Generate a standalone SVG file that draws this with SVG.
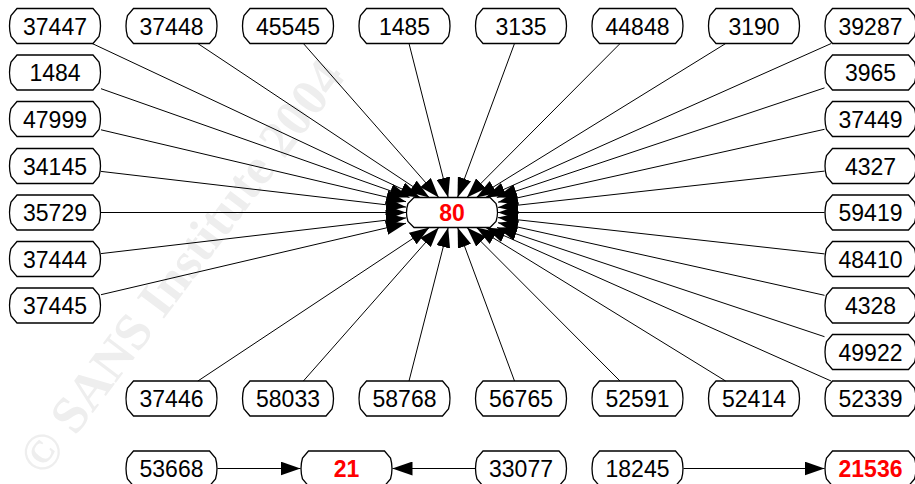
<svg xmlns="http://www.w3.org/2000/svg" width="915" height="484" viewBox="0 0 915 484">
<defs>
<style>
.n{fill:#fff;stroke:#000;stroke-width:1.3}
.t{font-family:"Liberation Sans",Arial,sans-serif;font-size:23px;text-anchor:middle;fill:#000}
.r{fill:#ff0000;font-weight:bold}
.e line{stroke:#000;stroke-width:1;marker-end:url(#ah)}
.wm{font-family:"Liberation Serif","Times New Roman",serif;font-size:52px;font-weight:bold;fill:#eeeeee}
</style>
<marker id="ah" markerWidth="20" markerHeight="14" refX="20" refY="7" orient="auto" markerUnits="userSpaceOnUse"><path d="M0,0 L20,7 L0,14 Z" fill="#000"/></marker>
<path id="shp" d="M8,0 H84 L90,7 Q93,17.5 90,28 L84,35 H8 L2,28 Q-1,17.5 2,7 Z"/>
<path id="shc" d="M8,0 H84 L90,6 Q93,15 90,24 L84,30 H8 L2,24 Q-1,15 2,6 Z"/>
</defs>
<rect width="915" height="484" fill="#fff"/>
<text class="wm" transform="translate(44,478) rotate(-53)">© SANS Institute 2004</text>

<g id="n37447"><use href="#shp" class="n" x="9" y="8.5"/><text class="t" x="55" y="34.5">37447</text></g>
<g id="n37448"><use href="#shp" class="n" x="125.5" y="8.5"/><text class="t" x="171.5" y="34.5">37448</text></g>
<g id="n45545"><use href="#shp" class="n" x="242" y="8.5"/><text class="t" x="288" y="34.5">45545</text></g>
<g id="n1485"><use href="#shp" class="n" x="358.5" y="8.5"/><text class="t" x="404.5" y="34.5">1485</text></g>
<g id="n3135"><use href="#shp" class="n" x="475" y="8.5"/><text class="t" x="521" y="34.5">3135</text></g>
<g id="n44848"><use href="#shp" class="n" x="591.5" y="8.5"/><text class="t" x="637.5" y="34.5">44848</text></g>
<g id="n3190"><use href="#shp" class="n" x="708" y="8.5"/><text class="t" x="754" y="34.5">3190</text></g>
<g id="n39287"><use href="#shp" class="n" x="824.5" y="8.5"/><text class="t" x="870.5" y="34.5">39287</text></g>

<g id="n1484"><use href="#shp" class="n" x="9" y="55"/><text class="t" x="55" y="81">1484</text></g>
<g id="n47999"><use href="#shp" class="n" x="9" y="101.5"/><text class="t" x="55" y="127.5">47999</text></g>
<g id="n34145"><use href="#shp" class="n" x="9" y="148.5"/><text class="t" x="55" y="174.5">34145</text></g>
<g id="n35729"><use href="#shp" class="n" x="9" y="195"/><text class="t" x="55" y="221">35729</text></g>
<g id="n37444"><use href="#shp" class="n" x="9" y="241.5"/><text class="t" x="55" y="267.5">37444</text></g>
<g id="n37445"><use href="#shp" class="n" x="9" y="288"/><text class="t" x="55" y="314">37445</text></g>

<g id="n3965"><use href="#shp" class="n" x="824.5" y="55"/><text class="t" x="870.5" y="81">3965</text></g>
<g id="n37449"><use href="#shp" class="n" x="824.5" y="101.5"/><text class="t" x="870.5" y="127.5">37449</text></g>
<g id="n4327"><use href="#shp" class="n" x="824.5" y="148.5"/><text class="t" x="870.5" y="174.5">4327</text></g>
<g id="n59419"><use href="#shp" class="n" x="824.5" y="195"/><text class="t" x="870.5" y="221">59419</text></g>
<g id="n48410"><use href="#shp" class="n" x="824.5" y="241.5"/><text class="t" x="870.5" y="267.5">48410</text></g>
<g id="n4328"><use href="#shp" class="n" x="824.5" y="288"/><text class="t" x="870.5" y="314">4328</text></g>
<g id="n49922"><use href="#shp" class="n" x="824.5" y="334.5"/><text class="t" x="870.5" y="360.5">49922</text></g>

<g id="n37446"><use href="#shp" class="n" x="125.5" y="381"/><text class="t" x="171.5" y="407">37446</text></g>
<g id="n58033"><use href="#shp" class="n" x="242" y="381"/><text class="t" x="288" y="407">58033</text></g>
<g id="n58768"><use href="#shp" class="n" x="358.5" y="381"/><text class="t" x="404.5" y="407">58768</text></g>
<g id="n56765"><use href="#shp" class="n" x="475" y="381"/><text class="t" x="521" y="407">56765</text></g>
<g id="n52591"><use href="#shp" class="n" x="591.5" y="381"/><text class="t" x="637.5" y="407">52591</text></g>
<g id="n52414"><use href="#shp" class="n" x="708" y="381"/><text class="t" x="754" y="407">52414</text></g>
<g id="n52339"><use href="#shp" class="n" x="824.5" y="381"/><text class="t" x="870.5" y="407">52339</text></g>

<g id="n53668"><use href="#shp" class="n" x="125.5" y="451"/><text class="t" x="171.5" y="477">53668</text></g>
<g id="n21"><use href="#shp" class="n" x="300.5" y="451"/><text class="t r" x="346.5" y="477">21</text></g>
<g id="n33077"><use href="#shp" class="n" x="475" y="451"/><text class="t" x="521" y="477">33077</text></g>
<g id="n18245"><use href="#shp" class="n" x="591.5" y="451"/><text class="t" x="637.5" y="477">18245</text></g>
<g id="n21536"><use href="#shp" class="n" x="824.5" y="451"/><text class="t r" x="870.5" y="477">21536</text></g>

<g id="n80"><use href="#shc" class="n" x="406" y="197.5"/><text class="t r" x="452" y="220.5">80</text></g>

<g id="edges" class="e">
<line x1="92.2" y1="43.5" x2="420.1" y2="197.5"/>
<line x1="101" y1="88.7" x2="409.5" y2="197.5"/>
<line x1="101" y1="129.8" x2="406" y2="201.7"/>
<line x1="101" y1="171.4" x2="406" y2="207.1"/>
<line x1="101" y1="212.5" x2="406" y2="212.5"/>
<line x1="101" y1="253.6" x2="406" y2="217.9"/>
<line x1="101" y1="294.7" x2="406" y2="223.3"/>
<line x1="831.2" y1="43.5" x2="485.6" y2="197.5"/>
<line x1="824.5" y1="87.9" x2="496.8" y2="197.5"/>
<line x1="824.5" y1="129.3" x2="498" y2="202.2"/>
<line x1="824.5" y1="171.1" x2="498" y2="207.4"/>
<line x1="824.5" y1="212.5" x2="498" y2="212.5"/>
<line x1="824.5" y1="253.9" x2="498" y2="217.6"/>
<line x1="824.5" y1="295.3" x2="498" y2="222.7"/>
<line x1="824.5" y1="336.7" x2="497" y2="227.5"/>
<line x1="831.1" y1="381" x2="485.7" y2="227.5"/>
<line x1="197.8" y1="43.5" x2="429.4" y2="197.5"/>
<line x1="303.4" y1="43.5" x2="438.8" y2="197.5"/>
<line x1="409" y1="43.5" x2="448.2" y2="197.5"/>
<line x1="514.5" y1="43.5" x2="457.5" y2="197.5"/>
<line x1="620.1" y1="43.5" x2="466.9" y2="197.5"/>
<line x1="725.7" y1="43.5" x2="476.3" y2="197.5"/>
<line x1="197.9" y1="381" x2="429.4" y2="227.5"/>
<line x1="303.4" y1="381" x2="438.8" y2="227.5"/>
<line x1="409" y1="381" x2="448.2" y2="227.5"/>
<line x1="514.5" y1="381" x2="457.6" y2="227.5"/>
<line x1="620" y1="381" x2="467" y2="227.5"/>
<line x1="725.6" y1="381" x2="476.3" y2="227.5"/>
<line x1="217.5" y1="468.5" x2="300.5" y2="468.5"/>
<line x1="475" y1="468.5" x2="392.5" y2="468.5"/>
<line x1="683.5" y1="468.5" x2="824.5" y2="468.5"/>
</g>
</svg>
